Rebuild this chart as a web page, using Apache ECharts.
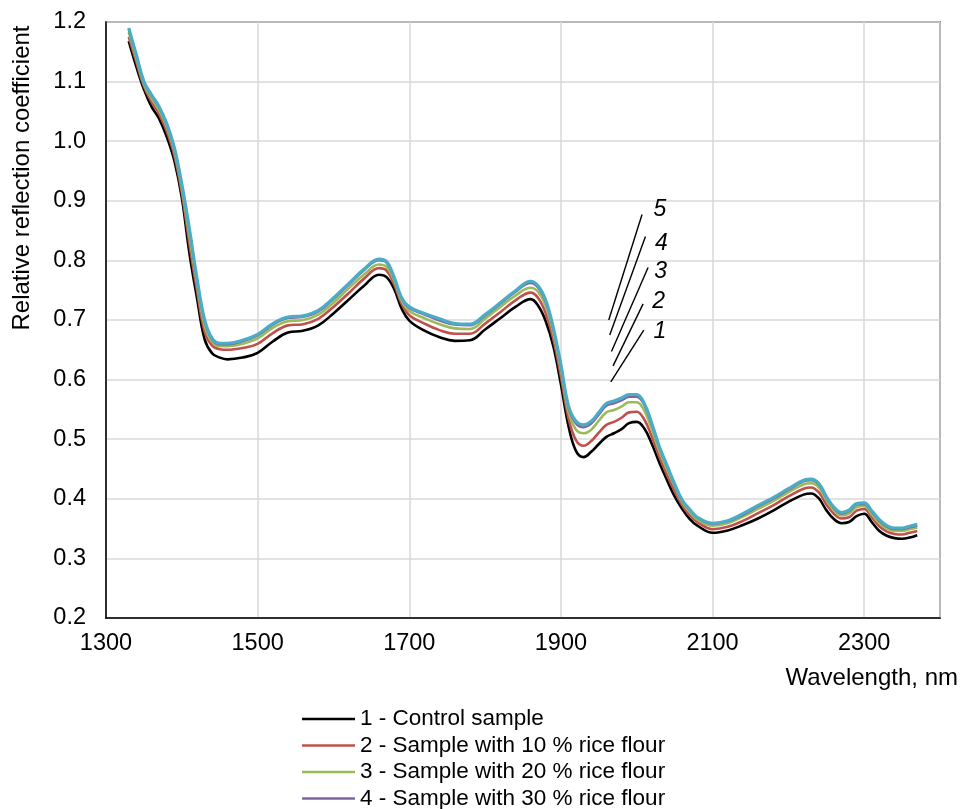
<!DOCTYPE html>
<html>
<head>
<meta charset="utf-8">
<script src="https://cdn.jsdelivr.net/npm/echarts@6/dist/echarts.min.js"></script>
<style>html,body{margin:0;padding:0;background:#fff}#c{width:962px;height:809px}</style>
</head>
<body>
<div id="c"></div>
<script>
const wavelengths = [1330,1340,1350,1360,1370,1380,1390,1400,1410,1420,
1430,1440,1450,1460,1480,1500,1520,1540,1560,1580,
1600,1620,1640,1660,1670,1680,1690,1700,1720,1740,
1760,1780,1800,1820,1840,1860,1870,1880,1890,1900,
1910,1920,1930,1940,1950,1960,1970,1980,1990,2000,
2010,2020,2030,2040,2050,2060,2070,2080,2100,2120,
2140,2160,2180,2200,2220,2230,2240,2250,2260,2270,
2280,2290,2300,2310,2320,2330,2340,2350,2360,2370];

const control = [1.168,1.125,1.087,1.058,1.038,1.008,0.968,0.905,0.812,0.737,
0.668,0.644,0.637,0.634,0.637,0.645,0.664,0.679,0.682,0.691,
0.711,0.734,0.757,0.776,0.772,0.752,0.719,0.699,0.682,0.671,
0.665,0.666,0.684,0.703,0.722,0.735,0.724,0.698,0.656,0.592,
0.522,0.480,0.470,0.479,0.492,0.504,0.510,0.517,0.527,0.529,
0.518,0.492,0.460,0.431,0.404,0.383,0.366,0.355,0.343,0.347,
0.356,0.367,0.380,0.395,0.407,0.409,0.401,0.381,0.366,0.359,
0.361,0.371,0.375,0.361,0.346,0.338,0.334,0.333,0.335,0.339];

const rice10 = [1.175,1.133,1.092,1.066,1.046,1.017,0.977,0.914,0.828,0.750,
0.681,0.657,0.651,0.650,0.653,0.660,0.678,0.691,0.693,0.702,
0.722,0.745,0.769,0.787,0.783,0.760,0.727,0.708,0.694,0.683,
0.677,0.677,0.694,0.713,0.733,0.746,0.737,0.711,0.668,0.605,
0.535,0.498,0.489,0.497,0.511,0.524,0.529,0.536,0.545,0.546,
0.533,0.504,0.470,0.440,0.413,0.389,0.372,0.361,0.349,0.353,
0.363,0.376,0.389,0.404,0.417,0.419,0.411,0.391,0.375,0.367,
0.369,0.380,0.383,0.369,0.354,0.345,0.341,0.340,0.343,0.346];

const rice20 = [1.183,1.139,1.096,1.072,1.052,1.024,0.984,0.921,0.841,0.761,
0.691,0.663,0.656,0.656,0.660,0.669,0.687,0.698,0.700,0.709,
0.729,0.753,0.776,0.793,0.789,0.766,0.732,0.715,0.703,0.693,
0.686,0.685,0.702,0.722,0.741,0.754,0.747,0.723,0.678,0.616,
0.546,0.516,0.510,0.516,0.531,0.545,0.549,0.555,0.562,0.562,
0.548,0.516,0.479,0.449,0.421,0.394,0.378,0.365,0.355,0.359,
0.370,0.383,0.396,0.411,0.424,0.426,0.419,0.398,0.381,0.372,
0.375,0.386,0.388,0.374,0.359,0.350,0.346,0.346,0.349,0.352];

const rice30 = [1.187,1.143,1.099,1.076,1.056,1.028,0.988,0.926,0.850,0.767,
0.698,0.667,0.659,0.659,0.664,0.674,0.692,0.703,0.705,0.714,
0.735,0.759,0.783,0.800,0.796,0.770,0.736,0.720,0.709,0.699,
0.692,0.691,0.707,0.727,0.747,0.762,0.754,0.730,0.684,0.622,
0.553,0.526,0.520,0.526,0.541,0.556,0.560,0.565,0.571,0.571,
0.557,0.523,0.485,0.454,0.423,0.397,0.381,0.368,0.358,0.362,
0.373,0.387,0.400,0.415,0.429,0.431,0.424,0.402,0.384,0.375,
0.379,0.390,0.391,0.378,0.363,0.353,0.349,0.349,0.352,0.355];

const rice40 = [1.190,1.145,1.100,1.078,1.058,1.030,0.990,0.928,0.853,0.770,
0.701,0.669,0.661,0.661,0.666,0.676,0.694,0.705,0.707,0.716,
0.737,0.761,0.785,0.802,0.798,0.772,0.737,0.722,0.711,0.702,
0.694,0.693,0.709,0.729,0.749,0.765,0.757,0.733,0.687,0.625,
0.556,0.530,0.524,0.530,0.545,0.560,0.564,0.569,0.575,0.575,
0.560,0.526,0.487,0.456,0.425,0.398,0.382,0.369,0.359,0.363,
0.375,0.389,0.402,0.417,0.431,0.433,0.426,0.404,0.386,0.377,
0.381,0.392,0.393,0.380,0.365,0.355,0.351,0.351,0.354,0.357];

const seriesNames = ['1 - Control sample','2 - Sample with 10 % rice flour','3 - Sample with 20 % rice flour','4 - Sample with 30 % rice flour','5 - Sample with 40 % rice flour'];
const seriesValues = [control, rice10, rice20, rice30, rice40];

// annotation leader lines (data coordinates) and labels
const leaderFrom = [[1965.8,0.596],[1968.8,0.623],[1966.7,0.647],[1964.4,0.675],[1963.1,0.700]];
const leaderTo = [[2009.3,0.683],[2008.4,0.727],[2015.0,0.788],[2011.5,0.840],[2007.0,0.877]];
const labelAt = [[2030.5,0.680],[2029.0,0.731],[2031.7,0.781],[2032.6,0.828],[2030.5,0.886]];
const labelText = ['1','2','3','4','5'];

const xTicks = {min:1300, max:2400, interval:200};
const yTicks = {min:0.2, max:1.2, interval:0.1};

const colors = ['#000000','#C0504D','#9BBB59','#8064A2','#4BACC6'];
const widths = [2.6,2.6,2.6,2.2,3.2];
const FONT = '"Liberation Sans", Arial, sans-serif';

const chart = echarts.init(document.getElementById('c'), null, {renderer:'canvas'});

const series = seriesValues.map((vals, i) => ({
  name: seriesNames[i],
  type: 'line',
  data: wavelengths.map((w, j) => [w, vals[j]]),
  symbol: 'none',
  smooth: 0.4,
  z: 2 + i,
  lineStyle: {color: colors[i], width: widths[i]},
  itemStyle: {color: colors[i]}
}));

series.push({
  name: 'leaders',
  type: 'line',
  data: [],
  silent: true,
  markLine: {
    silent: true,
    symbol: ['none','none'],
    label: {show:false},
    lineStyle: {color:'#000', width:1.4, type:'solid', opacity:1},
    data: leaderFrom.map((p, i) => [{coord:p}, {coord:leaderTo[i]}])
  }
});

series.push({
  name: 'labels',
  type: 'scatter',
  symbolSize: 0,
  silent: true,
  itemStyle: {opacity: 1, color: '#000'},
  data: labelAt.map((p, i) => ({value:p, label:{formatter: labelText[i]}})),
  label: {show:true, position:'inside', color:'#000', opacity:1, fontFamily:FONT, fontSize:23, fontStyle:'italic'}
});

chart.setOption({
  animation: false,
  backgroundColor: '#fff',
  grid: {left:106, right:22, top:22, bottom:191, show:true, borderColor:'#262626', borderWidth:1.5, backgroundColor:'transparent'},
  xAxis: {
    type: 'value', min: xTicks.min, max: xTicks.max, interval: xTicks.interval,
    axisLine: {show:true, onZero:false, lineStyle:{color:'#000', width:1.5}},
    axisTick: {show:false},
    splitLine: {show:true, lineStyle:{color:'#d9d9d9', width:1.5}},
    axisLabel: {color:'#000', fontFamily:FONT, fontSize:23.5, margin:14, showMaxLabel:false,
      formatter: v => (v === xTicks.max ? '' : String(v))}
  },
  yAxis: {
    type: 'value', min: yTicks.min, max: yTicks.max, interval: yTicks.interval,
    axisLine: {show:true, onZero:false, lineStyle:{color:'#000', width:1.5}},
    axisTick: {show:false},
    splitLine: {show:true, lineStyle:{color:'#d9d9d9', width:1.5}},
    axisLabel: {color:'#000', fontFamily:FONT, fontSize:23.5, margin:20, formatter: v => v.toFixed(1)}
  },
  legend: {
    data: seriesNames,
    orient: 'vertical',
    left: 302, top: 707, height: 200, width: 600,
    padding: 0,
    itemWidth: 53, itemHeight: 14, itemGap: 2.5,
    icon: 'path://M0,6 L53,6 L53,8.6 L0,8.6 Z',
    textStyle: {color:'#000', fontFamily:FONT, fontSize:22.5, lineHeight:24, padding:[0,0,0,0]},
    selectedMode: false
  },
  graphic: [
    {type:'text', x:22, y:178, rotation:Math.PI/2, style:{text:'Relative reflection coefficient', fill:'#000', font:'24px "Liberation Sans", Arial, sans-serif', textAlign:'center', textVerticalAlign:'middle'}},
    {type:'text', x:958, y:678, style:{text:'Wavelength, nm', fill:'#000', font:'24px "Liberation Sans", Arial, sans-serif', textAlign:'right', textVerticalAlign:'middle'}}
  ],
  series: series
});
</script>
</body>
</html>
